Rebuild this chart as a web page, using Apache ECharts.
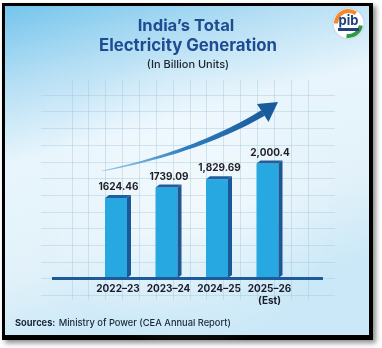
<!DOCTYPE html>
<html>
<head>
<meta charset="utf-8">
<script src="https://cdn.jsdelivr.net/npm/echarts@6/dist/echarts.min.js"></script>
<style>
  html, body { margin: 0; padding: 0; background: #ffffff; }
  #chart { width: 382px; height: 348px; }
</style>
</head>
<body>
<div id="chart"></div>
<script>
// Fiscal years and total generation (billion units)
const years = ['2022–23', '2023–24', '2024–25', '2025–26\n(Est)'];
const generation = [1624.46, 1739.09, 1829.69, 2000.4];
const valueLabels = ['1624.46', '1739.09', '1,829.69', '2,000.4'];

const titleLine1 = 'India’s Total';
const titleLine2 = 'Electricity Generation';
const subtitle = '(In Billion Units)';
const sourceLabel = 'Sources:';
const sourceText = 'Ministry of Power (CEA Annual Report)';

const Y_MIN = 750, Y_MAX = 2700;
const FRONT = '#28a8e0', SIDE = '#1b5896', TOP = '#1f5f9f';
const FONT = 'Inter, "Open Sans", sans-serif';

// Tapered curved trend arrow (quadratic curve, widening toward the head)
function trendArrow() {
  const p0 = [102, 171], p1 = [197, 152], p2 = [263, 113];
  const up = [], down = [];
  const n = 30;
  for (let i = 0; i <= n; i++) {
    const t = i / n, u = 1 - t;
    const x = u * u * p0[0] + 2 * u * t * p1[0] + t * t * p2[0];
    const y = u * u * p0[1] + 2 * u * t * p1[1] + t * t * p2[1];
    const dx = 2 * u * (p1[0] - p0[0]) + 2 * t * (p2[0] - p1[0]);
    const dy = 2 * u * (p1[1] - p0[1]) + 2 * t * (p2[1] - p1[1]);
    const len = Math.hypot(dx, dy);
    const nx = -dy / len, ny = dx / len;
    const w = 0.3 + 3.0 * Math.pow(t, 0.9);
    up.push([x + nx * w, y + ny * w]);
    down.push([x - nx * w, y - ny * w]);
  }
  return up.concat(down.reverse());
}

const chart = echarts.init(document.getElementById('chart'), null, { renderer: 'canvas' });

chart.setOption({
  animation: false,
  backgroundColor: '#ffffff',
  graphic: [
    // framed card with drop shadow
    { type: 'rect', z: -100, shape: { x: 2, y: 3, width: 371, height: 337 },
      style: { fill: '#000', shadowBlur: 5, shadowOffsetX: 3, shadowOffsetY: 3, shadowColor: 'rgba(0,0,0,0.45)' } },
    { type: 'rect', z: -99, shape: { x: 5, y: 6, width: 364, height: 329 },
      style: { fill: new echarts.graphic.LinearGradient(0, 0, 0.25, 1, [
        { offset: 0, color: '#74c5ec' },
        { offset: 0.22, color: '#b4def4' },
        { offset: 0.45, color: '#e8f5fc' },
        { offset: 0.75, color: '#e3f2fa' },
        { offset: 1, color: '#cae8f7' }
      ]) } },
    { type: 'circle', z: -98, shape: { cx: 190, cy: 200, r: 150 },
      style: { fill: new echarts.graphic.RadialGradient(0.5, 0.5, 0.5, [
        { offset: 0, color: 'rgba(255,255,255,0.55)' },
        { offset: 1, color: 'rgba(255,255,255,0)' }
      ]) } },
    // headings
    { type: 'text', z: 20, style: { text: titleLine1, x: 186, y: 26, textAlign: 'center', textVerticalAlign: 'middle',
      font: '700 16.6px ' + FONT, fill: '#1e4c90' } },
    { type: 'text', z: 20, style: { text: titleLine2, x: 188, y: 45.5, textAlign: 'center', textVerticalAlign: 'middle',
      font: '700 16.8px ' + FONT, fill: '#1e4c90' } },
    { type: 'text', z: 20, style: { text: subtitle, x: 188, y: 65, textAlign: 'center', textVerticalAlign: 'middle',
      font: '500 11px ' + FONT, fill: '#1f2230' } },
    { type: 'text', z: 20, style: { x: 15, y: 323, textVerticalAlign: 'middle',
      text: '{b|' + sourceLabel + '} {n|' + sourceText + '}',
      rich: {
        b: { fontFamily: FONT, fontSize: 9.3, fontWeight: 700, fill: '#1b2738' },
        n: { fontFamily: FONT, fontSize: 9.3, fontWeight: 500, fill: '#1b2738' }
      } } },
    // trend arrow
    { type: 'polygon', z: 1, shape: { points: trendArrow() },
      style: { fill: new echarts.graphic.LinearGradient(0, 0, 1, 0, [
        { offset: 0, color: 'rgba(90,170,220,0.6)' },
        { offset: 0.5, color: '#2f7fc0' },
        { offset: 1, color: '#1a5b9c' }
      ]) } },
    { type: 'polygon', z: 1, shape: { points: [[278, 102], [257, 104], [268.5, 122]] },
      style: { fill: '#1a5b9c' } },
    // baseline
    { type: 'rect', z: 50, shape: { x: 52, y: 277, width: 271, height: 3 }, style: { fill: '#1d5a98' } },
    // emblem
    { type: 'circle', z: 5, shape: { cx: 348.5, cy: 23.5, r: 15 },
      style: { fill: '#ffffff', shadowBlur: 2, shadowColor: 'rgba(0,0,0,0.2)' } },
    { type: 'arc', z: 6, shape: { cx: 348.5, cy: 23.5, r: 12.5, startAngle: Math.PI * 1.0, endAngle: Math.PI * 1.7 },
      style: { stroke: '#f08a32', lineWidth: 4, fill: null } },
    { type: 'arc', z: 6, shape: { cx: 348.5, cy: 23.5, r: 12.5, startAngle: Math.PI * 0.05, endAngle: Math.PI * 0.55 },
      style: { stroke: '#2f9a44', lineWidth: 4, fill: null } },
    { type: 'text', z: 7, style: { text: 'pib', x: 348.5, y: 21, textAlign: 'center', textVerticalAlign: 'middle',
      font: '700 13px ' + FONT, fill: '#1d3f7a' } },
    { type: 'rect', z: 7, shape: { x: 338, y: 28, width: 21, height: 3 }, style: { fill: '#24407a' } }
  ],
  grid: [
    // chart area
    { left: 92.75, width: 202, top: 99.6, bottom: 70 },
    // background vertical guide lines
    { left: 55, width: 252.9, top: 80, bottom: 48 },
    // background horizontal guide lines
    { left: 41, right: 47, top: 78.3, height: 217.1 }
  ],
  xAxis: [
    { type: 'category', gridIndex: 0, data: years,
      axisLine: { show: false }, axisTick: { show: false },
      axisLabel: { interval: 0, margin: 5, fontFamily: FONT, fontSize: 10, fontWeight: 700, color: '#1a1c2a', lineHeight: 12 } },
    { type: 'value', gridIndex: 1, min: 0, max: 15, interval: 1, show: true,
      axisLine: { show: false }, axisTick: { show: false }, axisLabel: { show: false },
      splitLine: { show: true, showMinLine: false, lineStyle: { color: 'rgba(160,195,220,0.4)', width: 1 } } },
    { type: 'value', gridIndex: 2, min: 0, max: 1, show: false }
  ],
  yAxis: [
    { type: 'value', gridIndex: 0, min: Y_MIN, max: Y_MAX, show: false },
    { type: 'value', gridIndex: 1, min: 0, max: 1, show: false },
    { type: 'value', gridIndex: 2, min: 0, max: 13, interval: 1,
      axisLine: { show: false }, axisTick: { show: false }, axisLabel: { show: false },
      splitLine: { show: true, showMaxLine: false, lineStyle: { color: 'rgba(160,195,220,0.4)', width: 1 } } }
  ],
  series: [{
    type: 'custom',
    xAxisIndex: 0, yAxisIndex: 0,
    z: 10,
    data: generation.map((v, i) => [i, v]),
    renderItem: function (params, api) {
      const top = api.coord([api.value(0), api.value(1)]);
      const base = api.coord([api.value(0), Y_MIN]);
      const c = top[0];
      const x0 = c - 13, x1 = c + 9, d = 4, h = 3;
      return {
        type: 'group',
        children: [
          { type: 'rect', shape: { x: x0, y: top[1], width: x1 - x0, height: base[1] - top[1] }, style: { fill: FRONT } },
          { type: 'polygon', shape: { points: [[x1, top[1]], [x1 + d, top[1] - h], [x1 + d, base[1] - h], [x1, base[1]]] }, style: { fill: SIDE } },
          { type: 'polygon', shape: { points: [[x0, top[1]], [x0 + d, top[1] - h], [x1 + d, top[1] - h], [x1, top[1]]] }, style: { fill: TOP } },
          { type: 'text', style: { text: valueLabels[params.dataIndex], x: c + 0.5, y: top[1] - h - 8,
            textAlign: 'center', textVerticalAlign: 'middle', font: '700 10px ' + FONT, fill: '#1e1f26' } }
        ]
      };
    }
  }]
});
</script>
</body>
</html>
